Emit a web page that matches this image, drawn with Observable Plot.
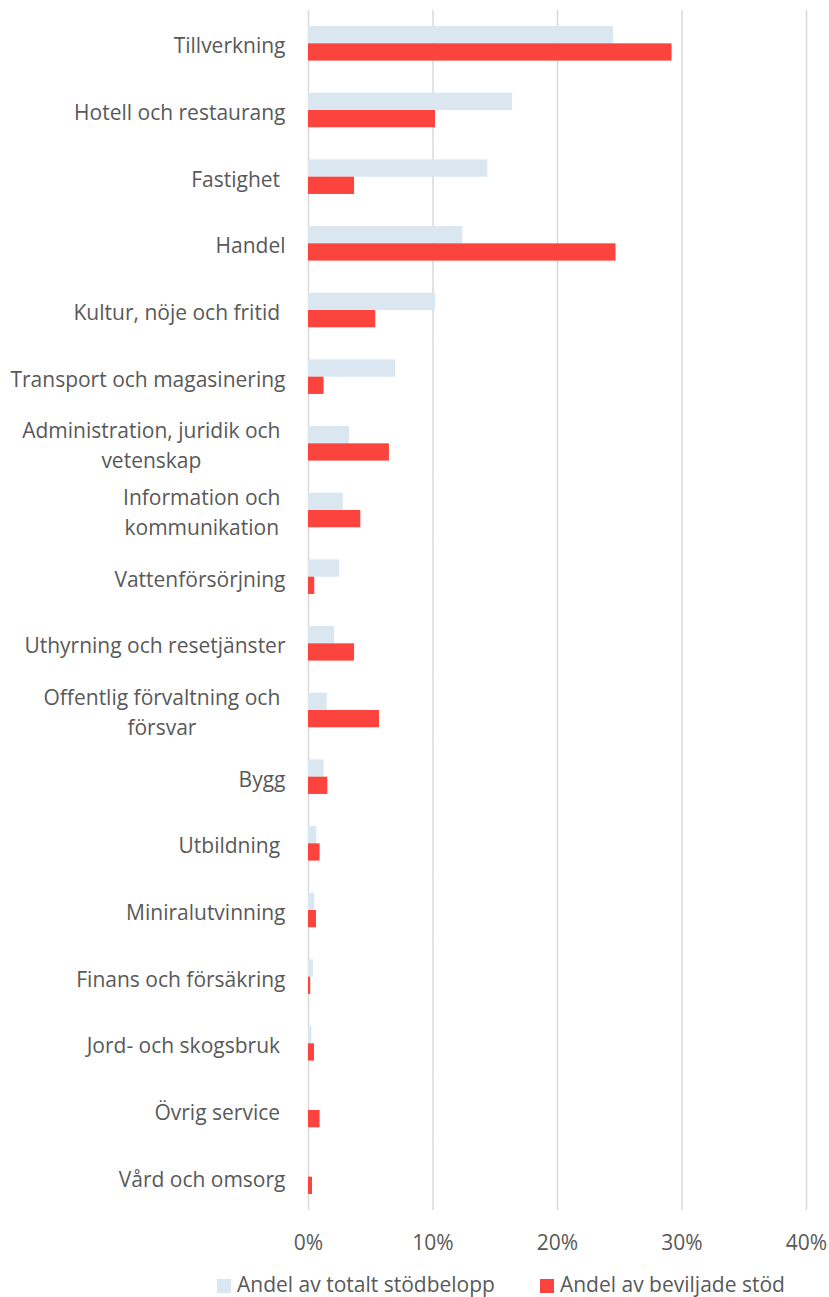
<!DOCTYPE html>
<html><head><meta charset="utf-8">
<script src="https://cdn.jsdelivr.net/npm/d3@7"></script>
<script src="https://cdn.jsdelivr.net/npm/@observablehq/plot@0.6"></script>
<style>
body{margin:0;background:#fff;font-family:"Open Sans",sans-serif;}
#legend{display:flex;align-items:center;margin-top:9px;padding-left:217px;height:26px;line-height:26px;font-size:21px;color:#595959;white-space:nowrap;}
#legend .sw{display:inline-block;flex:none;width:14px;height:14px;margin-right:6px;margin-top:4px;}
#legend .item{display:flex;flex:none;align-items:center;margin-right:45px;white-space:nowrap;}
</style></head><body><div id="chart"></div><div id="legend"></div>
<script>
const categories = ["Tillverkning","Hotell och restaurang","Fastighet","Handel","Kultur, nöje och fritid","Transport och magasinering","Administration, juridik och vetenskap","Information och kommunikation","Vattenförsörjning","Uthyrning och resetjänster","Offentlig förvaltning och försvar","Bygg","Utbildning","Miniralutvinning","Finans och försäkring","Jord- och skogsbruk","Övrig service","Vård och omsorg"];
const labelLines = {
  "Administration, juridik och vetenskap":"Administration, juridik och\nvetenskap",
  "Information och kommunikation":"Information och\nkommunikation",
  "Offentlig förvaltning och försvar":"Offentlig förvaltning och\nförsvar",
  "Fastighet":"Fastighet\u00a0",
  "Kultur, nöje och fritid":"Kultur, nöje och fritid\u00a0",
  "Utbildning":"Utbildning\u00a0",
  "Jord- och skogsbruk":"Jord- och skogsbruk\u00a0",
  "Övrig service":"Övrig service\u00a0"
};
const series = ["Andel av totalt stödbelopp","Andel av beviljade stöd"];
const totalt = [24.5,16.4,14.4,12.4,10.2,7.0,3.3,2.8,2.5,2.1,1.5,1.25,0.67,0.5,0.4,0.27,0,0];
const beviljade = [29.2,10.2,3.7,24.7,5.4,1.25,6.5,4.2,0.5,3.7,5.7,1.55,0.93,0.64,0.18,0.48,0.93,0.32];
const xTicks = [0,10,20,30,40];
const colors = ["#dae6f0","#fa443d"];

const data = categories.flatMap((c,i)=>[
  {category:c, series:series[0], value:totalt[i]},
  {category:c, series:series[1], value:beviljade[i]}
]);

const chart = Plot.plot({
  width: 829, height: 1262,
  marginLeft: 308, marginRight: 23, marginTop: 10, marginBottom: 52,
  style: {fontFamily: '"Open Sans", sans-serif', fontSize: "21px", color: "#595959", background: "#fff"},
  x: {domain:[0,40], ticks: xTicks, label: null},
  y: {domain: series, paddingInner: 0, paddingOuter: 0.93, round: false, axis: null},
  fy: {domain: categories, padding: 0, round: false, label: null},
  color: {domain: series, range: colors},
  marks: [
    Plot.gridX(xTicks, {stroke:"#d9d9d9", strokeOpacity:1, strokeWidth:1.5}),
    Plot.barX(data, {fy:"category", y:"series", x:"value", fill:"series"}),
    Plot.axisX({ticks: xTicks, tickFormat: d => d + "%", tickSize: 0, tickPadding: 25, fontSize: 21, label: null}),
    Plot.axisFy({anchor:"left", tickSize:0, tickPadding:23, tickFormat: c => labelLines[c] || c, fontSize:21, lineHeight:1.43, label:null})
  ]
});
document.getElementById("chart").append(chart);

// centre the lines of wrapped category labels, keeping their right edge
chart.querySelectorAll("text").forEach(t => {
  const spans = t.querySelectorAll("tspan");
  if (spans.length > 1) {
    const w = t.getBBox().width;
    t.setAttribute("text-anchor", "middle");
    spans.forEach(s => s.setAttribute("x", -(w / 2) - 5));
  }
});

const legend = document.getElementById("legend");
series.forEach((s,i) => {
  const item = document.createElement("span");
  item.className = "item";
  const sw = document.createElement("span");
  sw.className = "sw"; sw.style.background = colors[i];
  item.append(sw, document.createTextNode(s));
  legend.append(item);
});
</script></body></html>
